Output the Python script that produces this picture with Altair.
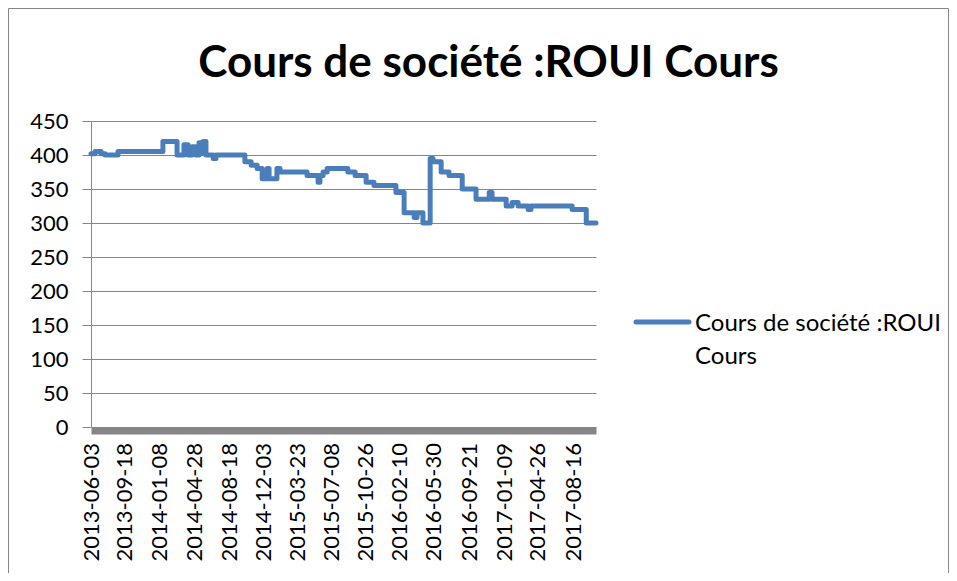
import altair as alt
import pandas as pd

# ---- data ----
dates = [
    "2013-06-03", "2013-06-16", "2013-07-05", "2013-07-18", "2013-08-28",
    "2014-01-18", "2014-03-04", "2014-03-26", "2014-04-08", "2014-04-21",
    "2014-05-03", "2014-05-13", "2014-05-19", "2014-05-26", "2014-06-04",
    "2014-06-27", "2014-07-06", "2014-10-06", "2014-10-26", "2014-11-14",
    "2014-11-30", "2014-12-16", "2014-12-22", "2015-01-16", "2015-01-26",
    "2015-04-22", "2015-05-27", "2015-06-02", "2015-06-12", "2015-06-25",
    "2015-08-30", "2015-09-22", "2015-10-27", "2015-11-21", "2016-01-30",
    "2016-02-25", "2016-03-28", "2016-04-06", "2016-04-25", "2016-05-18",
    "2016-05-27", "2016-06-22", "2016-07-17", "2016-08-28", "2016-10-11",
    "2016-11-22", "2016-12-01", "2017-01-15", "2017-02-03", "2017-02-22",
    "2017-03-26", "2017-04-04", "2017-08-13", "2017-09-27", "2017-10-28",
]
prices = [
    402, 405, 402, 400, 405,
    420, 400, 415, 400, 412,
    400, 418, 403, 420, 400,
    395, 400, 390, 385, 380,
    365, 380, 365, 380, 375,
    370, 360, 370, 375, 380,
    375, 370, 360, 355, 345,
    315, 308, 315, 300, 395,
    390, 375, 370, 350, 335,
    345, 335, 325, 330, 325,
    320, 325, 320, 300, 300,
]
tick_dates = [
    "2013-06-03", "2013-09-18", "2014-01-08", "2014-04-28", "2014-08-18",
    "2014-12-03", "2015-03-23", "2015-07-08", "2015-10-26", "2016-02-10",
    "2016-05-30", "2016-09-21", "2017-01-09", "2017-04-26", "2017-08-16",
]
y_ticks = [0, 50, 100, 150, 200, 250, 300, 350, 400, 450]
series_name = "Cours de société :ROUI Cours"
legend_lines = ["Cours de société :ROUI", "Cours"]
title_text = "Cours de société :ROUI Cours"
x_domain = ["2013-06-03", "2017-10-28"]


def dt(s):
    y, m, d = (int(p) for p in s.split("-"))
    return alt.DateTime(year=y, month=m, date=d, utc=True)


df = pd.DataFrame({
    "date": pd.to_datetime(dates).strftime("%Y-%m-%dT00:00:00Z"),
    "price": prices,
    "serie": [series_name] * len(dates),
})
legend_df = pd.DataFrame({"serie": [series_name], "label": ["\n".join(legend_lines)]})

FONT = "Lato"
FS = 22
GRAY = "#868686"
BLUE = "#4a7ebb"

line = alt.Chart(df).mark_line(
    interpolate="step-after", strokeWidth=5, strokeJoin="round", strokeCap="round"
).encode(
    x=alt.X(
        "date:T",
        scale=alt.Scale(type="utc", domain=[dt(x_domain[0]), dt(x_domain[1])], nice=False),
        axis=alt.Axis(
            values=[dt(t) for t in tick_dates],
            labelExpr="utcFormat(datum.value, '%Y-%m-%d')",
            labelAngle=270, title=None, grid=False, ticks=False, tickSize=0,
            domainColor=GRAY, domainWidth=7, domainCap="butt", offset=3.5,
            labelPadding=12, labelFont=FONT, labelFontSize=FS, labelColor="black",
            labelOverlap=False, labelFlush=False, labelBound=False,
        ),
    ),
    y=alt.Y(
        "price:Q",
        scale=alt.Scale(domain=[0, 450], nice=False, zero=True),
        axis=alt.Axis(
            values=y_ticks, title=None, grid=True, gridColor=GRAY, gridWidth=1,
            domainColor=GRAY, domainWidth=1, tickColor=GRAY, tickSize=9, tickWidth=1,
            labelPadding=14, labelFont=FONT, labelFontSize=FS, labelColor="black",
            labelOverlap=False, labelFlush=False,
        ),
    ),
    color=alt.Color("serie:N", scale=alt.Scale(range=[BLUE]), legend=None),
)

# legend drawn as a key line plus its two-line label
legend_key = alt.Chart(legend_df).mark_rule(
    strokeWidth=5, strokeCap="round"
).encode(
    x=alt.value(545), x2=alt.value(598), y=alt.value(201),
    color=alt.Color("serie:N", scale=alt.Scale(range=[BLUE]), legend=None),
)
legend_text = alt.Chart(legend_df).mark_text(
    align="left", baseline="alphabetic", lineBreak="\n", lineHeight=33,
    font=FONT, fontSize=24, color="black",
).encode(
    x=alt.value(604), y=alt.value(210), text="label:N",
)

frame = alt.Chart(pd.DataFrame({"a": [0]})).mark_rect(
    filled=False, stroke=GRAY, strokeWidth=1
).encode(
    x=alt.value(-82.5), x2=alt.value(857.5), y=alt.value(-112.5), y2=alt.value(700)
)

chart = alt.layer(frame, line, legend_key, legend_text).properties(
    width=505,
    height=306,
    padding={"left": 83, "top": 113, "right": 353, "bottom": 146},
    autosize=alt.AutoSizeParams(type="none"),
    title=alt.TitleParams(
        text=title_text, font=FONT, fontSize=44, fontWeight="bold", color="black",
        anchor="middle", dx=145, dy=78, offset=0,
    ),
).configure_view(stroke=None)

chart.save("out.html", embed_options={"renderer": "svg", "actions": False})
